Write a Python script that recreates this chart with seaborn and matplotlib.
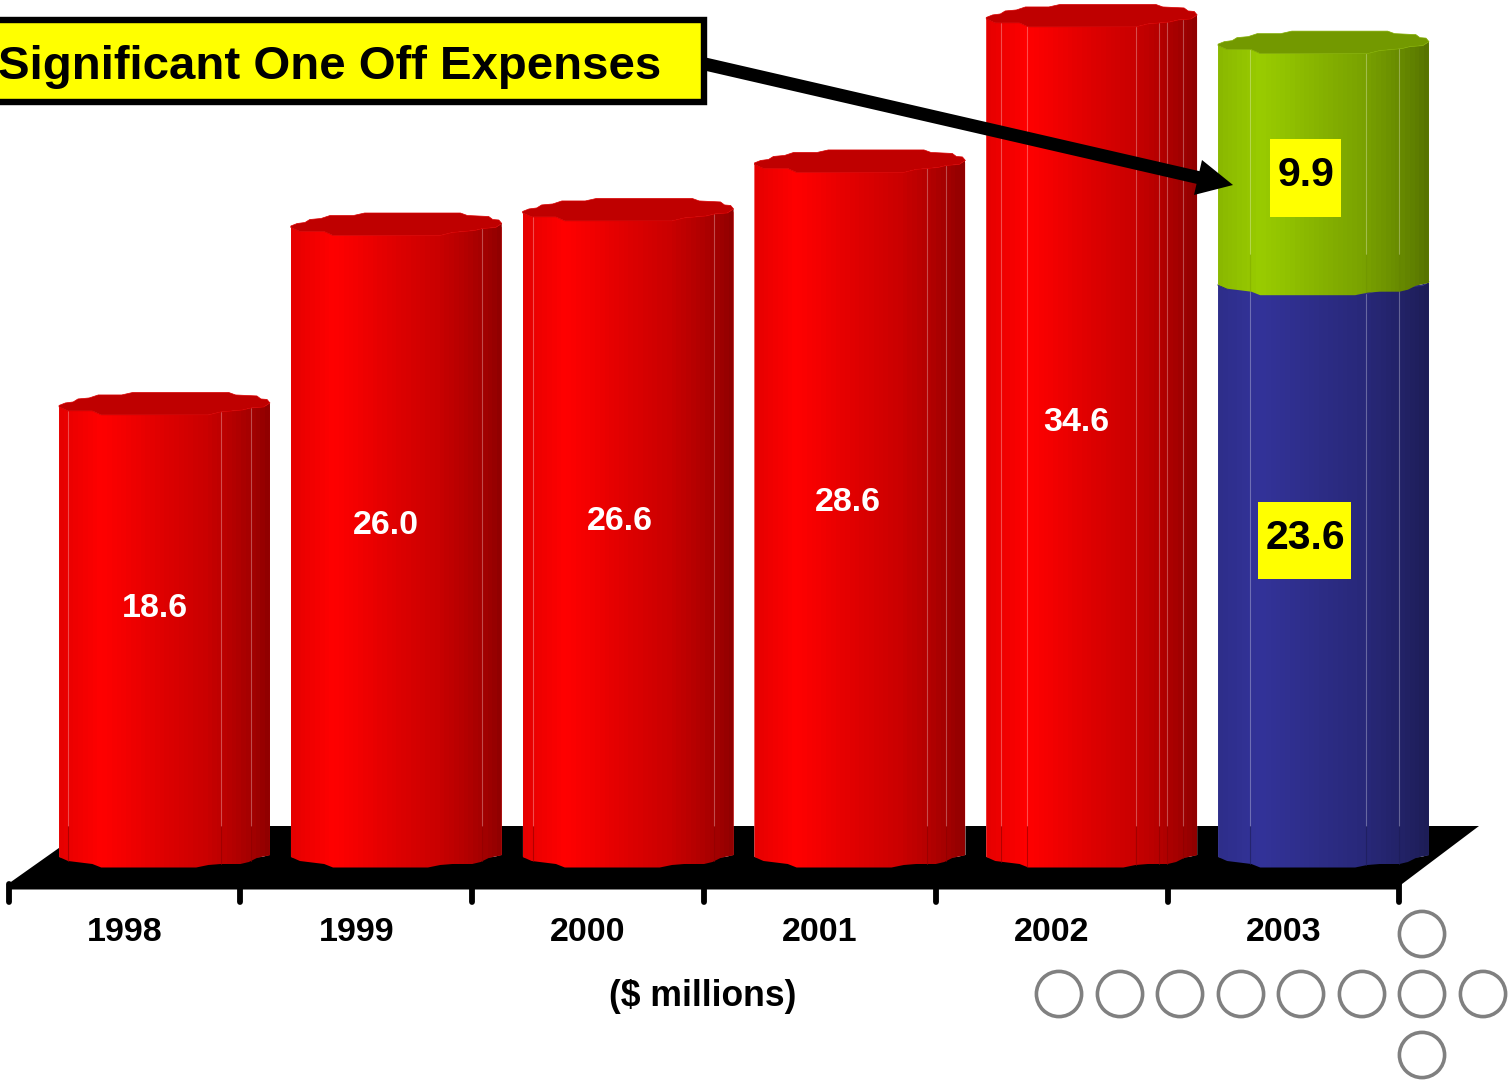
import numpy as np
import matplotlib
matplotlib.use("Agg")
import matplotlib.pyplot as plt
from matplotlib.patches import Polygon, Rectangle, Circle
from matplotlib.transforms import Affine2D
import seaborn as sns

# Chart values ($ millions)
YEARS = ["1998", "1999", "2000", "2001", "2002", "2003"]
EXPENSES = [18.6, 26.0, 26.6, 28.6, 34.6, 23.6]
ONE_OFF_YEAR = "2003"
ONE_OFF_VALUE = 9.9

TITLE = "Significant One Off Expenses"
UNIT_LABEL = "($ millions)"

# Colours
RED = np.array([255, 0, 0]) / 255
BLUE = np.array([51, 51, 153]) / 255
GREEN = np.array([153, 204, 0]) / 255
YELLOW = "#FFFF00"

# Canvas and scale layout
W, H = 1510, 1080
BASE_PX = 856          # canvas row of value 0
PX_PER_UNIT = 24.25
FIRST_CENTER_PX = 164.5
CATEGORY_PX = 231.8
BAR_WIDTH = 0.91
DEPTH = 40 / CATEGORY_PX   # the floor's front edge sits left of the cylinders

# Cylinder silhouette: (fraction of width, rows below the section line)
BACK_RIM = [(0, .5), (.03, -2), (.067, -3), (.09, -6), (.143, -7), (.186, -10), (.297, -10),
            (.35, -12.5), (.804, -12.5), (.837, -10), (.938, -9), (.957, -6), (.986, -5.5), (1, -2)]
FRONT_RIM = [(0, 2), (.043, 6), (.158, 6), (.2, 10), (.708, 10), (.766, 7), (.871, 5),
             (.91, 3), (.971, 2), (1, -2)]
FOOT_RIM = [(0, 1), (.043, 5), (.158, 8), (.2, 11.5), (.65, 11.5), (.708, 9), (.766, 8),
            (.86, 8), (.9, 6), (.938, 2), (1, -1)]
FACETS = {
    "1998": [.043, .766, .91],
    "1999": [.906],
    "2000": [.047, .906],
    "2001": [.816, .906],
    "2002": [.071, .193, .708, .821, .858, .934],
    "2003": [.153, .703, .856],
}
SHADE_T = [0, .04, .2, .3, .5, .7, .85, .95, 1]
SHADE_V = [.90, .92, 1, .96, .87, .79, .69, .61, .56]

# Value labels: offset in pixels from the top of the section they describe
LABEL_OFFSETS = [(-9.5, -204), (-10.3, -300.5), (-8, -311), (-12, -340.5), (-15.7, -406), (-18.5, -254)]
ONE_OFF_OFFSET = (-17.5, -131)
LABEL_BOXES = [(1258, 502, 93, 77), (1270, 139, 71, 78)]

# Decorative circles in canvas pixels
CIRCLE_X = [1059, 1120, 1180, 1241, 1301, 1362, 1422, 1483, 1422, 1422]
CIRCLE_Y = [994, 994, 994, 994, 994, 994, 994, 994, 934, 1055]

sns.set_theme(style="white")
plt.rcParams["font.family"] = ["Liberation Sans", "DejaVu Sans"]
plt.rcParams["font.weight"] = "bold"

fig = plt.figure(figsize=(W / 100, H / 100), dpi=100)
ax = fig.add_axes([0, 0, 1, 1])
canvas = Affine2D().scale(1, -1).translate(0, H)

# Base sections, then the one-off section stacked on the last year
sns.barplot(x=YEARS, y=EXPENSES, hue=YEARS, palette=[tuple(RED)] * 5 + [tuple(BLUE)],
            order=YEARS, hue_order=YEARS, dodge=False, legend=False, width=BAR_WIDTH,
            saturation=1, ax=ax)
sns.barplot(x=[ONE_OFF_YEAR], y=[ONE_OFF_VALUE], bottom=EXPENSES[-1], color=tuple(GREEN),
            order=YEARS, width=BAR_WIDTH, saturation=1, ax=ax)

xlim = (-FIRST_CENTER_PX / CATEGORY_PX, (W - FIRST_CENTER_PX) / CATEGORY_PX)
ylim = ((BASE_PX - H) / PX_PER_UNIT, BASE_PX / PX_PER_UNIT)

# Black floor with its round-capped category marks
ax.add_artist(Polygon([(8, 884), (8, 889.5), (1398, 889.5), (1402, 884), (1479, 826), (90, 826)],
                      closed=True, fc="black", ec="none", transform=canvas, zorder=0.5))
ax.vlines(np.arange(len(YEARS) + 1) - 0.5 - DEPTH, (BASE_PX - 902) / PX_PER_UNIT,
          (BASE_PX - 884) / PX_PER_UNIT, color="black", lw=4.2, capstyle="round", zorder=0.6)

shades = np.interp((np.arange(44) + .5) / 44, SHADE_T, SHADE_V)
FLOOR_RISE = (BASE_PX - 826) / PX_PER_UNIT


def rim(profile, left, width, level):
    return [(left + t * width, level - dy / PX_PER_UNIT) for t, dy in profile]


def draw_section(bar, year, colour, order, stacked):
    left, width = bar.get_x(), bar.get_width()
    low, high = bar.get_y(), bar.get_y() + bar.get_height()
    z = 2 + order * 0.1
    body = Polygon(rim(FRONT_RIM, left, width, high) + rim(FOOT_RIM, left, width, low)[::-1],
                   closed=True, transform=ax.transData)
    bar.set_clip_path(body)
    bar.set_zorder(z)
    # Horizontal shading of the cylinder wall
    strip = (shades[:, None] * colour)[None, :, :]
    img = ax.imshow(strip, extent=(left, left + width, low - 12 / PX_PER_UNIT, high + 12 / PX_PER_UNIT),
                    aspect="auto", interpolation="nearest", zorder=z)
    img.set_clip_path(body)
    # Top face
    cap = rim(BACK_RIM, left, width, high) + rim(FRONT_RIM, left, width, high)[::-1]
    ax.add_patch(Polygon(cap, closed=True, fc=colour * .75, ec=colour * .85, lw=.5, zorder=z + .02))
    # Facet seams: light on the wall, darker where the wall meets the floor
    seam_alpha = .18 if stacked else .6
    for t in FACETS[year]:
        x = left + t * width
        top = np.interp(t, *zip(*FRONT_RIM))
        foot = np.interp(t, *zip(*FOOT_RIM))
        ax.plot([x, x], [low + FLOOR_RISE, high - top / PX_PER_UNIT], color="white", alpha=.3,
                lw=.8, zorder=z + .01)
        ax.plot([x, x], [low - foot / PX_PER_UNIT, low + FLOOR_RISE], color=colour * .55,
                alpha=seam_alpha, lw=.8, zorder=z + .01)


bars = [b for c in ax.containers for b in c if np.isfinite(b.get_height()) and b.get_height() > 0]
bars.sort(key=lambda b: (b.get_x(), b.get_y()))
for n, bar in enumerate(bars):
    idx = int(round(bar.get_x() + bar.get_width() / 2))
    stacked = bar.get_y() > 0
    colour = GREEN if stacked else (BLUE if YEARS[idx] == ONE_OFF_YEAR else RED)
    draw_section(bar, YEARS[idx], colour, n, stacked)

ax.set_xlim(*xlim)
ax.set_ylim(*ylim)
ax.set_xlabel("")
ax.set_ylabel("")
ax.set_xticks([])
ax.set_yticks([])
for spine in ax.spines.values():
    spine.set_visible(False)
ax.patch.set_alpha(0)

# Year labels under the floor
sec = ax.secondary_xaxis((H - 889.5) / H, functions=(lambda v: v + DEPTH, lambda v: v - DEPTH))
sec.set_xticks(range(len(YEARS)), YEARS, fontsize=24.5, fontweight="bold", color="black")
sec.tick_params(axis="x", length=0, pad=20)
for spine in sec.spines.values():
    spine.set_visible(False)

fig.text(703 / W, 1 - 997 / H, UNIT_LABEL, fontsize=25.6, fontweight="bold", color="black",
         ha="center", va="center")

# Value labels
for i, value in enumerate(EXPENSES):
    boxed = YEARS[i] == ONE_OFF_YEAR
    ax.annotate(f"{value:.1f}", xy=(i, value), xytext=LABEL_OFFSETS[i], textcoords="offset pixels",
                ha="center", va="center", fontsize=29.5 if boxed else 24.5, fontweight="bold",
                color="black" if boxed else "white", zorder=12)
ax.annotate(f"{ONE_OFF_VALUE:.1f}", xy=(YEARS.index(ONE_OFF_YEAR), EXPENSES[-1] + ONE_OFF_VALUE),
            xytext=ONE_OFF_OFFSET, textcoords="offset pixels", ha="center", va="center",
            fontsize=29.5, fontweight="bold", color="black", zorder=12)
for x, y, w, h in LABEL_BOXES:
    ax.add_artist(Rectangle((x, y), w, h, fc=YELLOW, ec="none", transform=canvas, zorder=11))

# Arrow from the call-out to the stacked section
start = np.array([705.0, 64.0])
tip = np.array([1233.0, 185.0])
head_a = np.array([1202.0, 160.0])
head_b = np.array([1194.0, 195.0])
direction = (tip - start) / np.linalg.norm(tip - start)
normal = np.array([-direction[1], direction[0]])
neck = (head_a + head_b) / 2
shaft = 6.5 * normal
ax.add_artist(Polygon([start - shaft, neck - shaft, head_a, tip, head_b, neck + shaft, start + shaft],
                      closed=True, fc="black", ec="none", transform=canvas, zorder=9))

# Call-out box
ax.add_artist(Rectangle((-12, 20), 716, 82, fc=YELLOW, ec="black", lw=4.6, joinstyle="miter",
                        transform=canvas, zorder=10))
fig.text(661 / W, 1 - 79 / H, TITLE, fontsize=34.1, fontweight="bold", color="black",
         ha="right", va="baseline", zorder=13)

# Ring ornament
for cx, cy in zip(CIRCLE_X, CIRCLE_Y):
    ax.add_artist(Circle((cx, cy), 22.6, fc="none", ec="#808080", lw=2.6, transform=canvas, zorder=8))

fig.savefig("out.png", dpi=100)
